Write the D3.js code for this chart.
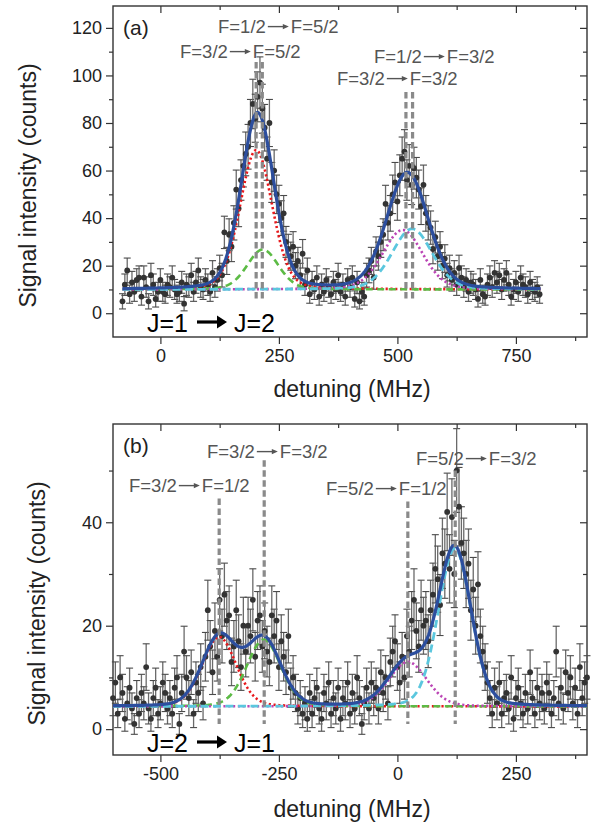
<!DOCTYPE html>
<html>
<head>
<meta charset="utf-8">
<script src="https://cdn.jsdelivr.net/npm/d3@7"></script>
<style>
  body { margin: 0; background: #fff; }
  text { font-family: "Liberation Sans", Arial, sans-serif; }
</style>
</head>
<body>
<svg id="chart" width="591" height="828"></svg>
<script>
// ---------- data ----------
// panel (a): J=1 -> J=2, scan every 5 MHz
const detuningA = d3.range(-80, 801, 5);
const countsA = [
  5,12,18,8,13,9,14,15,7,15,11,5,16,12,6,9,14,9,8,12,11,15,10,8,9,13,4,12,11,16,9,13,18,11,10,14,12,9,17,11,
  14,19,16,34,22,33,28,38,52,44,56,62,67,70,80,88,82,91,97,86,78,65,80,55,60,50,46,40,42,30,27,24,28,20,22,16,25,12,18,
  8,13,10,15,7,12,9,14,11,8,13,10,16,9,12,7,14,11,15,6,13,5,9,7,16,
  18,22,15,26,24,30,33,46,38,42,50,55,47,58,65,68,56,62,54,61,57,52,45,54,42,38,36,27,32,24,28,20,23,16,19,14,17,
  12,19,15,11,14,9,13,12,10,6,14,8,7,12,15,11,17,13,16,10,14,17,12,7,10,13,9,15,12,11,8,13,10,9,11,8
];
const errorsA = [
  3.2,4.5,5.2,3.8,4.6,4,4.7,4.9,3.6,4.9,4.3,3.2,5,4.5,3.4,4,4.7,4,3.8,4.5,4.3,4.9,4.2,3.8,4,4.6,3,4.5,4.3,5,4,4.6,5.2,4.3,4.2,4.7,4.5,4,5.1,4.3,
  4.7,5.4,5,6.8,5.7,6.7,6.3,7.2,8.2,7.6,8.5,8.9,9.2,9.4,9.9,10.4,10.1,10.5,10.8,10.3,9.8,9.1,9.9,8.4,8.7,8.1,7.8,7.3,7.5,6.5,6.2,5.9,6.3,5.5,5.7,5,6,4.5,5.2,
  3.8,4.6,4.2,4.9,3.6,4.5,4,4.7,4.3,3.8,4.6,4.2,5,4,4.5,3.6,4.7,4.3,4.9,3.4,4.6,3.2,4,3.6,5,
  5.2,5.7,4.9,6.1,5.9,6.5,6.7,7.8,7.2,7.5,8.1,8.4,7.9,8.6,9.1,9.2,8.5,8.9,8.3,8.8,8.5,8.2,7.7,8.3,7.5,7.2,7,6.2,6.7,5.9,6.3,5.5,5.8,5,5.4,4.7,5.1,
  4.5,5.4,4.9,4.3,4.7,4,4.6,4.5,4.2,3.4,4.7,3.8,3.6,4.5,4.9,4.3,5.1,4.6,5,4.2,4.7,5.1,4.5,3.6,4.2,4.6,4,4.9,4.5,4.3,3.8,4.6,4.2,4,4.3,3.8
];

// panel (b): J=2 -> J=1
const detuningB = d3.range(-600, 401, 5);
const countsB = [
  6,9,3,10,7,2,5,8,4,1,6,3,7,5,12,4,2,6,8,3,5,9,7,4,6,3,8,10,1,7,15,
  10,6,11,3,9,7,12,5,14,23,16,11,19,14,25,18,26,21,22,13,16,23,17,12,20,15,20,18,25,14,21,22,16,19,15,13,22,18,21,12,17,14,11,18,8,10,7,4,6,3,
  5,2,7,3,6,8,4,2,7,5,9,3,6,4,8,2,6,5,9,3,7,4,10,6,1,5,8,4,9,
  6,8,4,11,7,10,5,13,15,17,12,9,14,10,18,15,21,25,19,16,23,20,21,17,23,26,31,29,24,34,32,42,31,41,30,50,43,36,34,30,32,23,27,20,28,18,15,12,9,6,3,
  8,5,9,3,6,7,4,10,2,6,8,5,3,7,4,11,6,3,8,5,7,4,9,7,3,6,15,5,8,4,11,7,10,5,8,3,12,6,9,10
];
const errorsB = [
  3.4,4,2.7,4.2,3.6,2.4,3.2,3.8,3,2,3.4,2.7,3.6,3.2,4.5,3,2.4,3.4,3.8,2.7,3.2,4,3.6,3,3.4,2.7,3.8,4.2,2,3.6,4.9,
  4.2,3.4,4.3,2.7,4,3.6,4.5,3.2,4.7,5.8,5,4.3,5.4,4.7,6,5.2,6.1,5.6,5.7,4.6,5,5.8,5.1,4.5,5.5,4.9,5.5,5.2,6,4.7,5.6,5.7,5,5.4,4.9,4.6,5.7,5.2,5.6,4.5,5.1,4.7,4.3,5.2,3.8,4.2,3.6,3,3.4,2.7,
  3.2,2.4,3.6,2.7,3.4,3.8,3,2.4,3.6,3.2,4,2.7,3.4,3,3.8,2.4,3.4,3.2,4,2.7,3.6,3,4.2,3.4,2,3.2,3.8,3,4,
  3.4,3.8,3,4.3,3.6,4.2,3.2,4.6,4.9,5.1,4.5,4,4.7,4.2,5.2,4.9,5.6,6,5.4,5,5.8,5.5,5.6,5.1,5.8,6.1,6.6,6.4,5.9,6.8,6.7,7.5,6.6,7.4,6.5,8.1,7.6,7,6.8,6.5,6.7,5.8,6.2,5.5,6.3,5.2,4.9,4.5,4,3.4,2.7,
  3.8,3.2,4,2.7,3.4,3.6,3,4.2,2.4,3.4,3.8,3.2,2.7,3.6,3,4.3,3.4,2.7,3.8,3.2,3.6,3,4,3.6,2.7,3.4,4.9,3.2,3.8,3,4.3,3.6,4.2,3.2,3.8,2.7,4.5,3.4,4,4.2
];

// fitted line shapes (pseudo-Voigt): centre (MHz), height above background (counts), FWHM (MHz)
const fitCentersA = [202, 216, 511, 531];
const fitHeightsA = [58.6, 16.8, 25, 25.5];
const fitWidthsA  = [80, 78, 100, 100];
const backgroundA = 10;

const fitCentersB = [-376, -282, 22, 121];
const fitHeightsB = [13.4, 12.9, 8.6, 30.5];
const fitWidthsB  = [85, 85, 95, 82];
const backgroundB = 4.4;

// hyperfine transition markers
const markerPosA = [202, 215, 518, 532];
const markerTopA = [105.7, 105.7, 93, 93];
const markerPosB = [-376, -281, 22, 122];
const markerTopB = [44.6, 52, 44, 50];

const transitionsA = [['F=1/2', 'F=5/2'], ['F=3/2', 'F=5/2'], ['F=1/2', 'F=3/2'], ['F=3/2', 'F=3/2']];
const transitionsB = [['F=3/2', 'F=3/2'], ['F=3/2', 'F=1/2'], ['F=5/2', 'F=1/2'], ['F=5/2', 'F=3/2']];

const xMajorA = [0, 250, 500, 750];
const xMinorA = [125, 375, 625, 875];
const yMajorA = [0, 20, 40, 60, 80, 100, 120];
const yMinorA = [10, 30, 50, 70, 90, 110];
const xMajorB = [-500, -250, 0, 250];
const xMinorB = [-375, -125, 125, 375];
const yMajorB = [0, 20, 40];
const yMinorB = [10, 30, 50];

// ---------- styles ----------
const COMP_STYLES = [
  { color: '#e8191c', width: 2.6, dash: '2.2,2.6' },   // red dotted
  { color: '#5cbb45', width: 2.6, dash: '7,4.5' },     // green dashed
  { color: '#bb45b5', width: 2.6, dash: '2.2,2.6' },   // magenta dotted
  { color: '#5bc7de', width: 2.8, dash: '8,4.5' },     // cyan dashed
];
const TOTAL_COLOR = '#2c4e9e';
const LABEL_GRAY = '#555';

const svg = d3.select('#chart');
const PLOT_L = 113, PLOT_R = 587;

function pseudoVoigt(x, c, h, w, eta) {
  const d = (x - c) / w;
  return h * ((1 - eta) * Math.exp(-4 * Math.LN2 * d * d) + eta / (1 + 4 * d * d));
}

function arrow(g, x0, x1, yy, lw, headLen, headHalf, color) {
  g.append('line')
    .attr('x1', x0).attr('x2', x1 - headLen + 1)
    .attr('y1', yy).attr('y2', yy)
    .attr('stroke', color).attr('stroke-width', lw);
  g.append('path')
    .attr('d', `M${x1},${yy} L${x1 - headLen},${yy - headHalf} L${x1 - headLen},${yy + headHalf} Z`)
    .attr('fill', color);
}

function drawPanel(p) {
  const x = d3.scaleLinear().domain(p.xDomain).range([PLOT_L, PLOT_R]);
  const y = d3.scaleLinear().domain(p.yDomain).range([p.bottom, p.top]);
  const g = svg.append('g');
  const plain = d => String(d);   // hyphen minus, as in the original

  // axes: outward on left/bottom, inward on top/right
  const axisDefs = [
    [d3.axisBottom(x).tickValues(p.xMajor).tickSize(7).tickPadding(5).tickFormat(plain), `translate(0,${p.bottom})`],
    [d3.axisBottom(x).tickValues(p.xMinor).tickSize(4).tickFormat(''), `translate(0,${p.bottom})`],
    [d3.axisTop(x).tickValues(p.xMajor).tickSize(-7).tickFormat(''), `translate(0,${p.top})`],
    [d3.axisTop(x).tickValues(p.xMinor).tickSize(-4).tickFormat(''), `translate(0,${p.top})`],
    [d3.axisLeft(y).tickValues(p.yMajor).tickSize(7).tickPadding(4).tickFormat(plain), `translate(${PLOT_L},0)`],
    [d3.axisLeft(y).tickValues(p.yMinor).tickSize(4).tickFormat(''), `translate(${PLOT_L},0)`],
    [d3.axisRight(y).tickValues(p.yMajor).tickSize(-7).tickFormat(''), `translate(${PLOT_R},0)`],
    [d3.axisRight(y).tickValues(p.yMinor).tickSize(-4).tickFormat(''), `translate(${PLOT_R},0)`],
  ];
  axisDefs.forEach(([ax, tr]) => {
    const a = g.append('g').attr('transform', tr).call(ax);
    a.select('.domain').remove();
    a.selectAll('line').attr('stroke', '#333').attr('stroke-width', 1.2);
    a.selectAll('text')
      .attr('font-family', '"Liberation Sans", Arial, sans-serif')
      .attr('font-size', 18).attr('fill', '#222');
  });

  g.append('rect')
    .attr('x', PLOT_L).attr('y', p.top)
    .attr('width', PLOT_R - PLOT_L).attr('height', p.bottom - p.top)
    .attr('fill', 'none').attr('stroke', '#333').attr('stroke-width', 1.4);

  // axis titles
  g.append('text')
    .attr('transform', `translate(${p.yTitleX},${(p.top + p.bottom) / 2 + 14}) rotate(-90)`)
    .attr('text-anchor', 'middle').attr('font-size', 23).attr('fill', '#222')
    .text('Signal intensity (counts)');
  g.append('text')
    .attr('x', (PLOT_L + PLOT_R) / 2 + 2).attr('y', p.xTitleY)
    .attr('text-anchor', 'middle').attr('font-size', 23).attr('fill', '#222')
    .text('detuning (MHz)');

  // data with error bars
  const pts = p.xs.map((d, i) => ({ x: d, v: p.counts[i], e: p.errors[i] }));
  const dataG = g.append('g');
  const bars = dataG.selectAll('g.bar').data(pts).enter().append('g');
  bars.append('line')
    .attr('x1', d => x(d.x)).attr('x2', d => x(d.x))
    .attr('y1', d => y(d.v - d.e)).attr('y2', d => y(d.v + d.e))
    .attr('stroke', '#6a6a6a').attr('stroke-width', 1.3);
  [-1, 1].forEach(s => {
    bars.append('line')
      .attr('x1', d => x(d.x) - 3.5).attr('x2', d => x(d.x) + 3.5)
      .attr('y1', d => y(d.v + s * d.e)).attr('y2', d => y(d.v + s * d.e))
      .attr('stroke', '#4a4a4a').attr('stroke-width', 1.1);
  });
  dataG.selectAll('circle').data(pts).enter().append('circle')
    .attr('cx', d => x(d.x)).attr('cy', d => y(d.v)).attr('r', 2.9)
    .attr('fill', '#333');

  // fit components and total
  const xsFit = d3.range(p.fitRange[0], p.fitRange[1] + 0.5, 2);
  const line = d3.line().x(d => x(d[0])).y(d => y(d[1]));
  p.centers.forEach((c, k) => {
    const st = COMP_STYLES[k];
    const vals = xsFit.map(xx => [xx, p.background + pseudoVoigt(xx, c, p.heights[k], p.widths[k], p.eta)]);
    g.append('path').attr('d', line(vals))
      .attr('fill', 'none').attr('stroke', st.color)
      .attr('stroke-width', st.width).attr('stroke-dasharray', st.dash);
  });
  const total = xsFit.map(xx => [xx, p.background +
    d3.sum(p.centers, (c, k) => pseudoVoigt(xx, c, p.heights[k], p.widths[k], p.eta))]);
  g.append('path').attr('d', line(total))
    .attr('fill', 'none').attr('stroke', TOTAL_COLOR).attr('stroke-width', 3.2)
    .attr('stroke-linejoin', 'round');

  // transition markers
  p.markers.forEach((m, k) => {
    g.append('line')
      .attr('x1', x(m)).attr('x2', x(m))
      .attr('y1', y(p.markerTops[k])).attr('y2', y(p.markerBottom))
      .attr('stroke', '#8a8a8a').attr('stroke-width', 3.2)
      .attr('stroke-dasharray', '6.5,3.5');
  });

  // transition labels
  p.transitions.forEach((t, k) => {
    const [lx, ly] = p.labelPos[k];
    const lg = g.append('g').attr('transform', `translate(${lx},${ly})`)
      .attr('font-size', 18.5).attr('fill', LABEL_GRAY);
    const t1 = lg.append('text').attr('x', 0).attr('y', 0).text(t[0]);
    const w1 = t1.node().getComputedTextLength();
    arrow(lg, w1 + 2, w1 + 23, -6.4, 1.4, 6, 2.6, LABEL_GRAY);
    lg.append('text').attr('x', w1 + 25).attr('y', 0).text(t[1]);
  });

  // panel tag and J transition
  g.append('text').attr('x', 123).attr('y', p.top + 29)
    .attr('font-size', 21).attr('fill', '#222').text(p.tag);
  const jg = g.append('g').attr('transform', `translate(147,${p.jBase})`)
    .attr('font-size', 25).attr('fill', '#000');
  jg.append('text').attr('x', 0).attr('y', 0).text(p.jText[0]);
  arrow(jg, 50, 80, -10, 3.2, 10, 6.5, '#000');
  jg.append('text').attr('x', 87).attr('y', 0).text(p.jText[1]);
}

drawPanel({
  xDomain: [-100, 900], yDomain: [-10, 129.2], top: 6, bottom: 337,
  xMajor: xMajorA, xMinor: xMinorA, yMajor: yMajorA, yMinor: yMinorA,
  xs: detuningA, counts: countsA, errors: errorsA,
  centers: fitCentersA, heights: fitHeightsA, widths: fitWidthsA, background: backgroundA, eta: 0.2,
  fitRange: [-80, 802],
  markers: markerPosA, markerTops: markerTopA, markerBottom: 6,
  transitions: transitionsA, labelPos: [[218, 33], [180, 58], [374, 63], [337, 85]],
  tag: '(a)', jText: ['J=1', 'J=2'], jBase: 332,
  yTitleX: 36, xTitleY: 397
});

drawPanel({
  xDomain: [-600, 400], yDomain: [-5, 59], top: 424, bottom: 755,
  xMajor: xMajorB, xMinor: xMinorB, yMajor: yMajorB, yMinor: yMinorB,
  xs: detuningB, counts: countsB, errors: errorsB,
  centers: fitCentersB, heights: fitHeightsB, widths: fitWidthsB, background: backgroundB, eta: 0.15,
  fitRange: [-600, 400],
  markers: markerPosB, markerTops: markerTopB, markerBottom: 1,
  transitions: transitionsB, labelPos: [[207, 458], [129, 492], [326, 495], [416, 465]],
  tag: '(b)', jText: ['J=2', 'J=1'], jBase: 752,
  yTitleX: 45, xTitleY: 817
});
</script>
</body>
</html>
